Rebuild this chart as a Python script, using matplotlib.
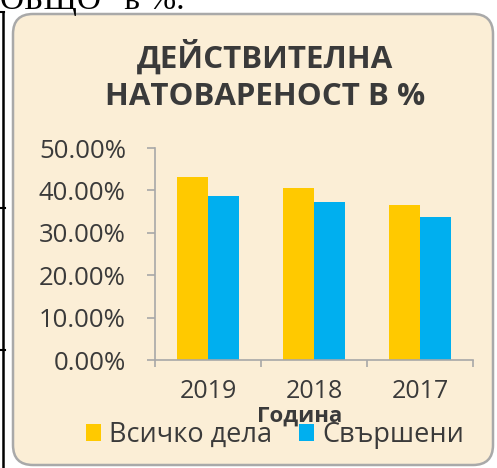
import matplotlib.pyplot as plt
import numpy as np
from matplotlib.patches import FancyBboxPatch

# Data
years = ['2019', '2018', '2017']
all_cases = [0.432, 0.406, 0.366]
finished = [0.387, 0.373, 0.338]
y_ticks = [0.0, 0.1, 0.2, 0.3, 0.4, 0.5]

title = 'ДЕЙСТВИТЕЛНА\nНАТОВАРЕНОСТ В %'
x_label = 'Година'
series_names = ['Всичко дела', 'Свършени']

yellow = '#FFC900'
blue = '#00AFEF'
panel_color = '#FBEED6'
text_color = '#3A3A3A'
axis_color = '#A8A8A8'

plt.rcParams['font.family'] = ['Open Sans', 'DejaVu Sans']

W, H = 497, 468
fig = plt.figure(figsize=(W / 100, H / 100), dpi=100)
fig.patch.set_facecolor('white')

# Background layer in pixel coordinates: document lines and rounded panel
bg = fig.add_axes([0, 0, 1, 1])
bg.set_xlim(0, W)
bg.set_ylim(H, 0)
bg.axis('off')

panel = FancyBboxPatch((13, 14), 480, 451, boxstyle='round,pad=0,rounding_size=20',
                       facecolor=panel_color, edgecolor='#A9A9A9', linewidth=1.8)
bg.add_patch(panel)
bg.plot([3, 3], [12, H], color='black', linewidth=1.8)
bg.plot([0, 4], [12, 12], color='black', linewidth=1.5)
bg.plot([0, 5], [208, 208], color='black', linewidth=1.5)
bg.plot([0, 5], [350, 350], color='black', linewidth=1.5)

# Text of the document, cut at the top
bg.text(0, 9, 'ОБЩО“ в %.', family='Liberation Serif', fontsize=24,
        color='black', ha='left', va='baseline')

bg.text(265, 76, title, ha='center', va='center', fontsize=22.5, fontweight='bold',
        color=text_color, linespacing=1.32)

# Chart axes
ax = fig.add_axes([155 / W, 1 - 360 / H, 318 / W, 212 / H])
ax.patch.set_alpha(0)

x = np.arange(len(years))
bw = 0.29
ax.bar(x - bw / 2, all_cases, bw, color=yellow, label=series_names[0], zorder=2)
ax.bar(x + bw / 2, finished, bw, color=blue, label=series_names[1], zorder=2)

ax.set_xlim(-0.5, len(years) - 0.5)
ax.set_ylim(0, 0.5)
ax.set_yticks(y_ticks)
ax.set_yticklabels([f'{v * 100:.2f}%' for v in y_ticks])
ax.set_xticks(x)
ax.set_xticklabels(years)
ax.set_xticks(np.arange(len(years) + 1) - 0.5, minor=True)

for s in ['top', 'right']:
    ax.spines[s].set_visible(False)
for s in ['left', 'bottom']:
    ax.spines[s].set_color(axis_color)
    ax.spines[s].set_linewidth(1.2)

ax.tick_params(axis='y', direction='out', length=6, width=1.2, color=axis_color,
               labelsize=18.5, labelcolor=text_color, pad=15)
ax.tick_params(axis='x', which='major', length=0, labelsize=18, labelcolor=text_color, pad=14)
ax.tick_params(axis='x', which='minor', direction='out', length=5, width=1.2, color=axis_color)

ax.set_xlabel(x_label, fontsize=16, fontweight='bold', color=text_color)
ax.xaxis.set_label_coords((300 - 155) / 318, -(406 - 360) / 212)
ax.xaxis.label.set_va('top')

leg = ax.legend(loc='center', bbox_to_anchor=((275 - 155) / 318, -(435 - 360) / 212), ncol=2,
                frameon=False, fontsize=19.5, handlelength=0.55, handleheight=0.55,
                handletextpad=0.3, columnspacing=1.0, labelcolor=text_color,
                borderaxespad=0, borderpad=0)

fig.savefig('out.png', dpi=100)
